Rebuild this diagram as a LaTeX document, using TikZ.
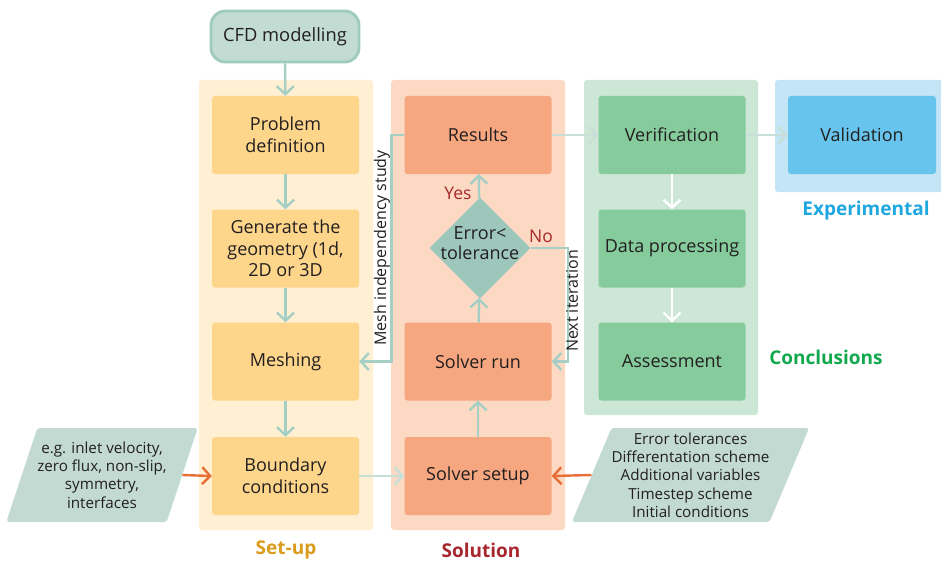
\documentclass[tikz,border=0pt]{standalone}
\usepackage{fontspec}
\setmainfont{Open Sans}
\usetikzlibrary{arrows.meta,shapes.geometric,positioning}
\definecolor{txt}{HTML}{231F20}
\definecolor{cfdfill}{HTML}{C2DBD3}
\definecolor{cfdline}{HTML}{9FCABF}
\definecolor{setupbg}{HTML}{FFEFD3}
\definecolor{setupbox}{HTML}{FED68B}
\definecolor{solbg}{HTML}{FCD9C3}
\definecolor{solbox}{HTML}{F6A77F}
\definecolor{diafill}{HTML}{9DC6BC}
\definecolor{concbg}{HTML}{CDE7D6}
\definecolor{concbox}{HTML}{85CB9C}
\definecolor{expbg}{HTML}{C3E5F6}
\definecolor{expbox}{HTML}{67C5ED}
\definecolor{parafill}{HTML}{C2DAD2}
\definecolor{linkcol}{HTML}{A5CFC4}
\definecolor{palelink}{HTML}{C8DFD8}
\definecolor{inputcol}{HTML}{E86F35}
\definecolor{setuplab}{HTML}{D99C1C}
\definecolor{sollab}{HTML}{A8272F}
\definecolor{conclab}{HTML}{12A84E}
\definecolor{explab}{HTML}{1FA7DF}
\tikzset{
  box/.style={rectangle, rounded corners=3pt, minimum width=147pt, minimum height=78pt,
    align=center, text=txt, font=\fontsize{18}{21.7}\selectfont, inner sep=2pt},
  para/.style={trapezium, trapezium left angle=65, trapezium right angle=115,
    trapezium stretches=true, fill=parafill, rounded corners=3pt, minimum width=190pt,
    minimum height=94pt, align=center, text=txt, font=\fontsize{15.2}{18.3}\selectfont, inner sep=0pt},
  link/.style={line width=2.4pt, draw=linkcol, -{Straight Barb[length=8pt,width=17pt,line width=2.4pt]}},
  collab/.style={font=\fontsize{19}{22}\selectfont\bfseries},
  sidelab/.style={font=\fontsize{16}{18}\selectfont, text=txt, rotate=90},
  answer/.style={font=\fontsize{17.5}{20}\selectfont, text=sollab}
}
\begin{document}
\begin{tikzpicture}[x=1pt,y=-1pt]
  \useasboundingbox (0,0) rectangle (941,564);
  % column backgrounds
  \fill[setupbg, rounded corners=3pt] (199,80) rectangle (373,530);
  \fill[solbg, rounded corners=3pt] (391,80) rectangle (565,530);
  \fill[concbg, rounded corners=3pt] (584,80) rectangle (758,415);
  \fill[expbg, rounded corners=3pt] (775,80) rectangle (945,192);

  \node[rectangle, rounded corners=14pt, fill=cfdfill, draw=cfdline, line width=2.8pt,
    minimum width=148pt, minimum height=51pt, text=txt, font=\fontsize{18.3}{22}\selectfont]
    (cfd) at (285,36.5) {CFD modelling};

  % set-up
  \node[box, fill=setupbox] (prob) at (285.5,135) {Problem\\definition};
  \node[box, fill=setupbox] (geom) at (285.5,248.5) {Generate the\\geometry (1d,\\2D or 3D};
  \node[box, fill=setupbox] (mesh) at (285.5,361.5) {Meshing};
  \node[box, fill=setupbox] (bc) at (285.5,476) {Boundary\\conditions};

  % solution
  \node[box, fill=solbox] (res) at (478,135) {Results};
  \node[diamond, aspect=1, minimum size=101pt, inner sep=0pt, fill=diafill] (err) at (480,248) {};
  \node[align=center, text=txt, font=\fontsize{18}{20}\selectfont] (errtext) at (480,243) {Error<\\tolerance};
  \node[box, fill=solbox] (run) at (478,361.5) {Solver run};
  \node[box, fill=solbox] (setup) at (478,476) {Solver setup};

  % conclusions and experimental
  \node[box, fill=concbox] (verif) at (672,135) {Verification};
  \node[box, fill=concbox] (data) at (672,248.5) {Data processing};
  \node[box, fill=concbox] (assess) at (672,361.5) {Assessment};
  \node[box, fill=expbox, minimum width=148pt] (valid) at (862,135) {Validation};

  % inputs
  \node[para] (bcin) at (102,475) {e.g. inlet velocity,\\zero flux, non-slip,\\symmetry,\\interfaces};
  \node[para] (setin) at (690.5,475) {Error tolerances\\Differentation scheme\\Additional variables\\Timestep scheme\\Initial conditions};

  % connectors
  \draw[link] (cfd) -- (prob);
  \draw[link] (prob) -- (geom);
  \draw[link] (geom) -- (mesh);
  \draw[link] (mesh) -- (bc);
  \draw[link, draw=palelink] (bc) -- (setup);
  \draw[link] (setup) -- (run);
  \draw[link] (run) -- (err);
  \draw[link] (err) -- (res);
  \draw[link] (err.east) -- ++(37,0) |- (run.east);
  \draw[link] (res.west) -- ++(-13,0) |- (mesh.east);
  \draw[link, draw=palelink] (res) -- (verif);
  \draw[link, draw=palelink] (verif) -- (valid);
  \draw[link, draw=white] (verif) -- (data);
  \draw[link, draw=white] (data) -- (assess);
  \draw[link, draw=inputcol] (bcin.east) -- (bc.west);
  \draw[link, draw=inputcol] (setin.west) -- (setup.east);

  % labels
  \node[answer] (yes) at (458,193) {Yes};
  \node[answer] (no) at (541,236) {No};
  \node[sidelab] (meshstudy) at (382,248) {Mesh independency study};
  \node[sidelab] (nextit) at (572,301) {Next iteration};
  \node[collab, text=setuplab] (setuplabel) at (286,550) {Set-up};
  \node[collab, text=sollab] (sollabel) at (481,550) {Solution};
  \node[collab, text=conclab] (conclabel) at (826,357) {Conclusions};
  \node[collab, text=explab] (explabel) at (866,211) {Experimental};
\end{tikzpicture}
\end{document}
